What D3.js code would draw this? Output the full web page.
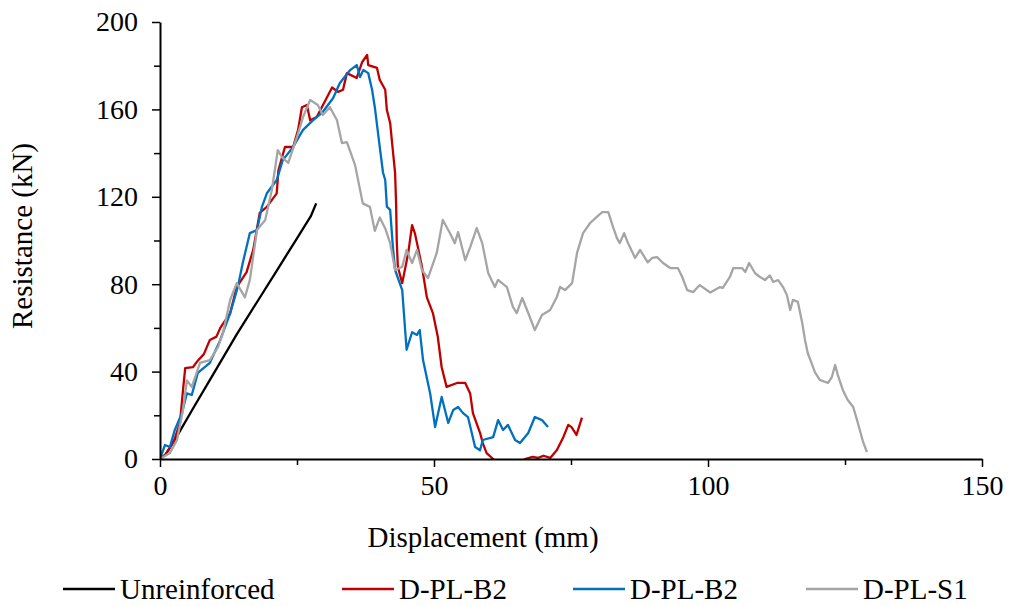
<!DOCTYPE html>
<html>
<head>
<meta charset="utf-8">
<script src="https://cdn.jsdelivr.net/npm/d3@7"></script>
<style>
  body { margin: 0; background: #fff; }
</style>
</head>
<body>
<div id="chart"></div>
<script>
// data: [displacement (mm), resistance (kN)]
var seriesNames = ["Unreinforced", "D-PL-B2", "D-PL-B2", "D-PL-S1"];

var unreinforced = [[0,0],[1,2],[3,10],[6,23],[10,40],[14,57],[18,73],[22,89],[25,101],[26.5,107],[27.5,111],[28.5,117]];

var dplB2Red = [[0,0],[1,2],[2.5,8],[3.65,16.5],[4.2,31.6],[4.6,41.6],[6,42],[6.9,45],[8,48],[9.1,54.5],[10.3,56],[11,60],
  [12.8,66.7],[14,78.7],[15.8,85.5],[17,95.6],[18.2,112.6],[19.5,115.4],[21.3,121.6],[21.6,132],[22.8,142.8],[24.3,142.8],
  [25.2,150.6],[25.9,161],[26.8,162],[27.4,155],[28.6,156.5],[30.5,165.7],[31.4,170],[32.5,168],[33.4,169],[34.1,176.6],
  [35.9,174.4],[36.9,181.7],[37.8,184.9],[38,180.3],[39.6,179],[40.1,173.5],[41.1,169],[41.4,159.7],[42,153.8],[42.3,146],
  [42.9,131],[43.1,115.5],[43.2,100],[43.4,88],[44.2,80.5],[45.3,94.3],[46,107],[46.5,103.4],[46.9,98.8],[47.8,88],
  [48.7,74],[49.8,66.8],[50.7,55.8],[51.4,42],[52.3,33],[54.2,34.8],[55.7,34.8],[56.6,30],[57.1,21],[58.4,12],[58.9,7.3],
  [59.6,2.7],[60.8,0],[62,-4],[65,-4],[66.6,0],[68,1],[69,0.5],[70,1.5],[71.2,0.5],[72.4,4],[73.6,10],[74.5,15.6],
  [75.1,14.6],[76,11],[77,18.9]];

var dplB2Blue = [[0,0],[0.9,6.4],[1.8,5.5],[2.7,13.3],[4,21],[4.9,30],[5.8,29.3],[6.9,39.4],[9.1,44],[11,54.5],[12.8,66.7],
  [14.2,78.7],[15.1,89.7],[16.4,103.4],[17.7,104.8],[18.6,115.4],[19.5,121.6],[21.3,127.7],[22.4,136.8],[24.3,142.8],
  [26.1,150.6],[27.9,155],[29.7,158.8],[31.6,165.2],[32.8,172],[34.7,178],[35.9,180.3],[36.5,174.8],[37.1,178],[38,176.6],
  [38.7,169],[39.2,161],[40.1,142.8],[40.7,131],[41.1,127.7],[41.4,115.5],[42,114],[42.5,97],[42.9,86.5],[44.2,77.3],
  [45,50],[46,58],[46.9,56.8],[47.4,59],[48,45.3],[49.3,30],[50.2,14.6],[51.4,28.4],[52.6,16.5],[53.5,22.4],[54.4,23.8],
  [55.3,21],[56.2,19.2],[57.5,5.5],[58.4,4],[58.9,8.7],[60.8,10],[61.7,17.8],[62.6,13.3],[63.5,15.6],[64.8,8.7],[65.7,7.3],
  [67.2,11.9],[68.4,19.2],[69.7,17.8],[70.8,14.6]];

var dplS1 = [[0,0],[1.8,2.7],[3.1,8.7],[4.2,22.4],[4.9,36],[5.8,33],[7.3,44],[9.1,45.3],[10.6,51.3],[11.5,57.7],[12.8,72.8],
  [14,80.5],[15.5,74],[16.4,82],[17.7,104.8],[19.2,109.4],[20.4,123],[21.5,141.4],[22.3,138],[23.4,135.5],[25,147.4],
  [26.1,156.5],[27.4,164.3],[28.8,162],[29.7,157.4],[31,161],[32.3,155],[33.2,144.6],[34.1,145],[35.6,134.5],[37,117],
  [38.3,115.4],[39.2,104.4],[40.1,110.5],[41.1,105.5],[42,98.8],[42.9,86.5],[44.2,88],[45,95.7],[46,89.7],[46.9,95.7],
  [47.8,86.5],[48.9,82.8],[50.5,94.3],[51.6,109.4],[52.9,103.4],[53.8,98.8],[54.4,103.9],[55.7,91],[56.6,97],[57.8,105.7],
  [58.8,98.8],[59.9,85],[61.1,78.7],[61.7,82],[63.3,78.7],[64.4,69.6],[65.1,66.8],[66.1,73.7],[67.2,66.8],[68.4,59],
  [69.7,65.9],[71.2,68.2],[72.4,74],[73,78.7],[73.9,77.3],[75.2,80.5],[76.1,94.3],[77.2,103.4],[78.5,108],[79.7,110.8],
  [80.7,113],[81.8,113],[82.7,106],[83.4,101],[83.9,98.8],[84.7,103.4],[85.4,98.8],[86.7,92],[87.6,95.7],[89,90],[89.8,92],
  [90.7,92.4],[91.8,89.7],[93.1,87.4],[94.5,87.4],[95.3,83.3],[96.2,77.3],[97.3,76.4],[98.5,79.6],[100.4,76.2],[102.2,78.7],
  [102.7,78.3],[104,83.3],[104.6,87.4],[106.2,87.4],[106.8,85.6],[107.5,89.7],[108.6,85],[109.5,83.3],[110.4,81.9],
  [111.3,84],[111.9,81],[112.8,81.9],[113.7,78.7],[114.4,75],[115,68.2],[115.5,72.8],[116.4,71.9],[117.2,62.2],[117.7,54.5],
  [118.2,48.5],[118.9,43.9],[119.5,39.8],[120.4,36.2],[121.9,34.8],[122.6,37.5],[123.2,43],[123.7,38.4],[124.6,31.6],
  [125.5,27],[126.5,23.8],[127.2,17.8],[127.7,13.3],[128.3,7.8],[129,3.2]];

var xTicks = [0, 50, 100, 150];
var xMinorTicks = [25, 75, 125];
var yTicks = [0, 40, 80, 120, 160, 200];
var yMinorTicks = [20, 60, 100, 140, 180];

var allSeries = [unreinforced, dplB2Red, dplB2Blue, dplS1];
var colors = ["#000000", "#C00000", "#0070C0", "#A5A5A5"];
var serif = "Liberation Serif";

var W = 1009, H = 606;
var margin = {top: 22, left: 160, right: 27, bottom: 147};
var width = W - margin.left - margin.right;
var height = H - margin.top - margin.bottom;

var svg = d3.select("#chart").append("svg")
    .attr("width", W)
    .attr("height", H)
    .attr("font-family", serif);

var g = svg.append("g")
    .attr("transform", "translate(" + margin.left + "," + margin.top + ")");

var x = d3.scaleLinear().domain([0, 150]).range([0, width]);
var y = d3.scaleLinear().domain([0, 200]).range([height, 0]);

g.append("clipPath").attr("id", "plotclip")
  .append("rect").attr("x", 0).attr("y", 0).attr("width", width).attr("height", height);

var line = d3.line()
    .x(function(d) { return x(d[0]); })
    .y(function(d) { return y(d[1]); });

// curves
g.append("g").attr("clip-path", "url(#plotclip)")
  .selectAll("path")
  .data(allSeries)
  .enter()
  .append("path")
  .attr("d", line)
  .attr("fill", "none")
  .attr("stroke", function(d, i) { return colors[i]; })
  .attr("stroke-width", 2.3)
  .attr("stroke-linejoin", "round");

// minor ticks
g.append("g")
  .attr("transform", "translate(0," + height + ")")
  .call(d3.axisBottom(x).tickValues(xMinorTicks).tickSize(6).tickFormat(""))
  .call(function(a) { a.select(".domain").remove(); })
  .selectAll("line").attr("stroke-width", 1.5);

g.append("g")
  .call(d3.axisLeft(y).tickValues(yMinorTicks).tickSize(6).tickFormat(""))
  .call(function(a) { a.select(".domain").remove(); })
  .selectAll("line").attr("stroke-width", 1.5);

// X axis
var xAxis = g.append("g")
    .attr("transform", "translate(0," + height + ")")
    .call(d3.axisBottom(x).tickValues(xTicks).tickSize(8).tickSizeOuter(0).tickPadding(8));
xAxis.attr("font-family", serif).attr("font-size", 28);
xAxis.select(".domain").attr("stroke-width", 2);
xAxis.selectAll("line").attr("stroke-width", 1.5);

// Y axis
var yAxis = g.append("g")
    .call(d3.axisLeft(y).tickValues(yTicks).tickSize(8).tickSizeOuter(0).tickPadding(14));
yAxis.attr("font-family", serif).attr("font-size", 28);
yAxis.select(".domain").attr("stroke-width", 2);
yAxis.selectAll("line").attr("stroke-width", 1.5);

// axis titles
svg.append("text")
  .attr("x", 483)
  .attr("y", 547)
  .attr("text-anchor", "middle")
  .attr("font-family", serif)
  .attr("font-size", 29)
  .text("Displacement (mm)");

svg.append("text")
  .attr("transform", "translate(32,236) rotate(-90)")
  .attr("text-anchor", "middle")
  .attr("font-family", serif)
  .attr("font-size", 29)
  .text("Resistance (kN)");

// legend
var legendX = [63, 342, 573, 806];
var legend = svg.append("g").selectAll("g")
    .data(seriesNames)
    .enter()
    .append("g")
    .attr("transform", function(d, i) { return "translate(" + legendX[i] + ",589)"; });

legend.append("line")
  .attr("x1", 0).attr("x2", 52)
  .attr("y1", 0).attr("y2", 0)
  .attr("stroke", function(d, i) { return colors[i]; })
  .attr("stroke-width", 2.5);

legend.append("text")
  .attr("x", 57)
  .attr("y", 10)
  .attr("font-family", serif)
  .attr("font-size", 29)
  .text(function(d) { return d; });
</script>
</body>
</html>
